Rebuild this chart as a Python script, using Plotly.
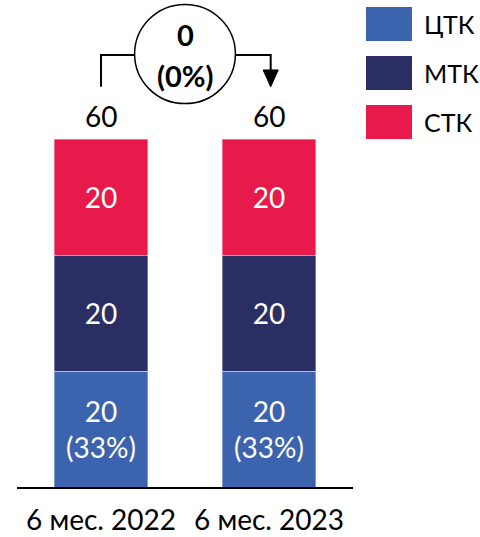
import plotly.graph_objects as go

periods = ['6 мес. 2022', '6 мес. 2023']
series = ['ЦТК', 'МТК', 'СТК']
ctk = [20, 20]
mtk = [20, 20]
stk = [20, 20]
colors = {'ЦТК': '#3C63AD', 'МТК': '#2A2E63', 'СТК': '#E8194B'}

values = {'ЦТК': ctk, 'МТК': mtk, 'СТК': stk}
totals = [a + b + c for a, b, c in zip(ctk, mtk, stk)]
font = 'Lato, Open Sans, sans-serif'

fig = go.Figure()
for name in series:
    vals = values[name]
    if name == 'ЦТК':
        texts = [f"{v}<br>({round(v / t * 100)}%)" for v, t in zip(vals, totals)]
    else:
        texts = [str(v) for v in vals]
    fig.add_trace(go.Bar(
        x=periods, y=vals, name=name, text=texts,
        textposition='inside', insidetextanchor='middle',
        textfont=dict(color='white', size=28, family=font),
        marker=dict(color=colors[name], line=dict(width=0.6, color='rgba(255,255,255,0.6)')),
        showlegend=False, hoverinfo='skip',
    ))

# totals above bars
for p, t in zip(periods, totals):
    fig.add_annotation(x=p, y=t + 4, text=str(t), showarrow=False, yanchor='middle',
                       font=dict(size=28, color='black', family=font))

# change bubble
diff = totals[1] - totals[0]
pct = round(diff / totals[0] * 100)
cy = 74.5
fig.add_shape(type='circle', xref='x', yref='y', x0=0.2, x1=0.8, y0=cy - 8.4, y1=cy + 8.7,
              line=dict(color='black', width=1.5))
fig.add_shape(type='path', xref='x', yref='y',
              path=f'M 0,{cy - 5.5} L 0,{cy} L 0.2,{cy}', line=dict(color='black', width=2))
fig.add_shape(type='path', xref='x', yref='y',
              path=f'M 0.8,{cy} L 1.01,{cy} L 1.01,{cy - 3}', line=dict(color='black', width=2))
fig.add_shape(type='path', xref='x', yref='y', fillcolor='black',
              path=f'M 0.965,{cy - 2.6} L 1.055,{cy - 2.6} L 1.01,{cy - 5.5} Z',
              line=dict(color='black', width=1))
fig.add_annotation(x=0.5, y=cy, text=f'<b>{diff}</b>', showarrow=False, yshift=20,
                   font=dict(size=29, color='black', family=font))
fig.add_annotation(x=0.5, y=cy, text=f'<b>({pct}%)</b>', showarrow=False, yshift=-21,
                   font=dict(size=29, color='black', family=font))

# legend
W, H = 480, 537
for i, name in enumerate(series):
    top = 7 + i * 49
    fig.add_shape(type='rect', xref='paper', yref='paper',
                  x0=366 / W, x1=412 / W, y0=1 - (top + 34) / H, y1=1 - top / H,
                  fillcolor=colors[name], line=dict(width=0))
    fig.add_annotation(xref='paper', yref='paper', x=422 / W, y=1 - (top + 17) / H,
                       text=name, showarrow=False, xanchor='left', yanchor='middle',
                       font=dict(size=25, color='black', family=font))

fig.update_layout(
    width=W, height=H, barmode='stack', bargap=0.446,
    margin=dict(l=0, r=0, t=0, b=0),
    plot_bgcolor='white', paper_bgcolor='white',
    xaxis=dict(domain=[17 / W, 353 / W], range=[-0.5, 1.5], showline=True, linecolor='black',
               linewidth=1.5, ticks='', ticklabelstandoff=8,
               tickfont=dict(size=28, color='black', family=font)),
    yaxis=dict(domain=[50 / H, 1], range=[0, 487 / 5.8], visible=False),
)

fig.write_html('out.html', config={'displayModeBar': False},
               post_script="document.body.style.margin='0';")
